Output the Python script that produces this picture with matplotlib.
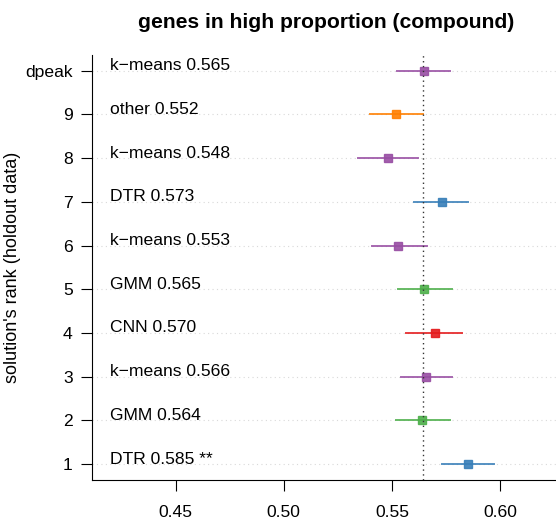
import matplotlib
matplotlib.use("Agg")
import matplotlib.pyplot as plt

# rows from bottom (1) to top (dpeak)
tick_labels = ["1", "2", "3", "4", "5", "6", "7", "8", "9", "dpeak"]
methods = ["DTR", "GMM", "k−means", "CNN", "GMM", "k−means", "DTR", "k−means", "other", "k−means"]
scores = [0.585, 0.564, 0.566, 0.570, 0.565, 0.553, 0.573, 0.548, 0.552, 0.565]
ci_low = [0.573, 0.552, 0.554, 0.5565, 0.553, 0.5407, 0.5604, 0.5345, 0.5399, 0.5525]
ci_high = [0.597, 0.5769, 0.5779, 0.5826, 0.5777, 0.5661, 0.5851, 0.5622, 0.5645, 0.5769]
stars = [" **", "", "", "", "", "", "", "", "", ""]
ref_value = 0.5645

method_colors = {
    "DTR": "#377EB8",
    "GMM": "#4DAF4A",
    "k−means": "#984EA3",
    "CNN": "#E41A1C",
    "other": "#FF7F00",
}

plt.rcParams["font.family"] = ["Liberation Sans", "DejaVu Sans"]

fig = plt.figure(figsize=(5.56, 5.21), dpi=100)
ax = fig.add_axes([0.1655, 0.0793, 0.8345, 0.815])

ypos = list(range(1, len(tick_labels) + 1))
for y in ypos:
    ax.axhline(y, color="#d9d9d9", lw=0.8, ls=(0, (1, 3)), zorder=0)

ax.axvline(ref_value, color="#333333", lw=1.0, ls=(0, (1, 2.5)), zorder=3)

for y, m, s, lo, hi, st in zip(ypos, methods, scores, ci_low, ci_high, stars):
    c = method_colors[m]
    ax.plot([lo, hi], [y, y], color=c, lw=1.4, alpha=0.85, zorder=2)
    ax.plot(s, y, marker="s", ms=5.8, color=c, alpha=0.9, mec=c, zorder=2)
    ax.text(0.4195, y + 0.01, f"{m} {s:.3f}{st}", fontsize=12.6, ha="left", va="baseline")

ax.set_xlim(0.4113, 0.6259)
ax.set_ylim(0.64, 10.36)
ax.set_xticks([0.45, 0.50, 0.55, 0.60])
ax.set_xticklabels(["0.45", "0.50", "0.55", "0.60"])
ax.set_yticks(ypos)
ax.set_yticklabels(tick_labels)
ax.tick_params(axis="both", labelsize=12.6, length=8, width=0.8, direction="out", pad=6)
ax.tick_params(axis="x", pad=10)

for side in ["top", "right"]:
    ax.spines[side].set_visible(False)
for side in ["left", "bottom"]:
    ax.spines[side].set_linewidth(0.8)

ax.set_ylabel("solution's rank (holdout data)", fontsize=13)
ax.yaxis.set_label_coords(-0.153, 0.5)
fig.text(326 / 556, 1 - 23 / 521, "genes in high proportion (compound)",
         fontsize=15.2, fontweight="bold", ha="center", va="center")

fig.savefig("out.png", dpi=100)
